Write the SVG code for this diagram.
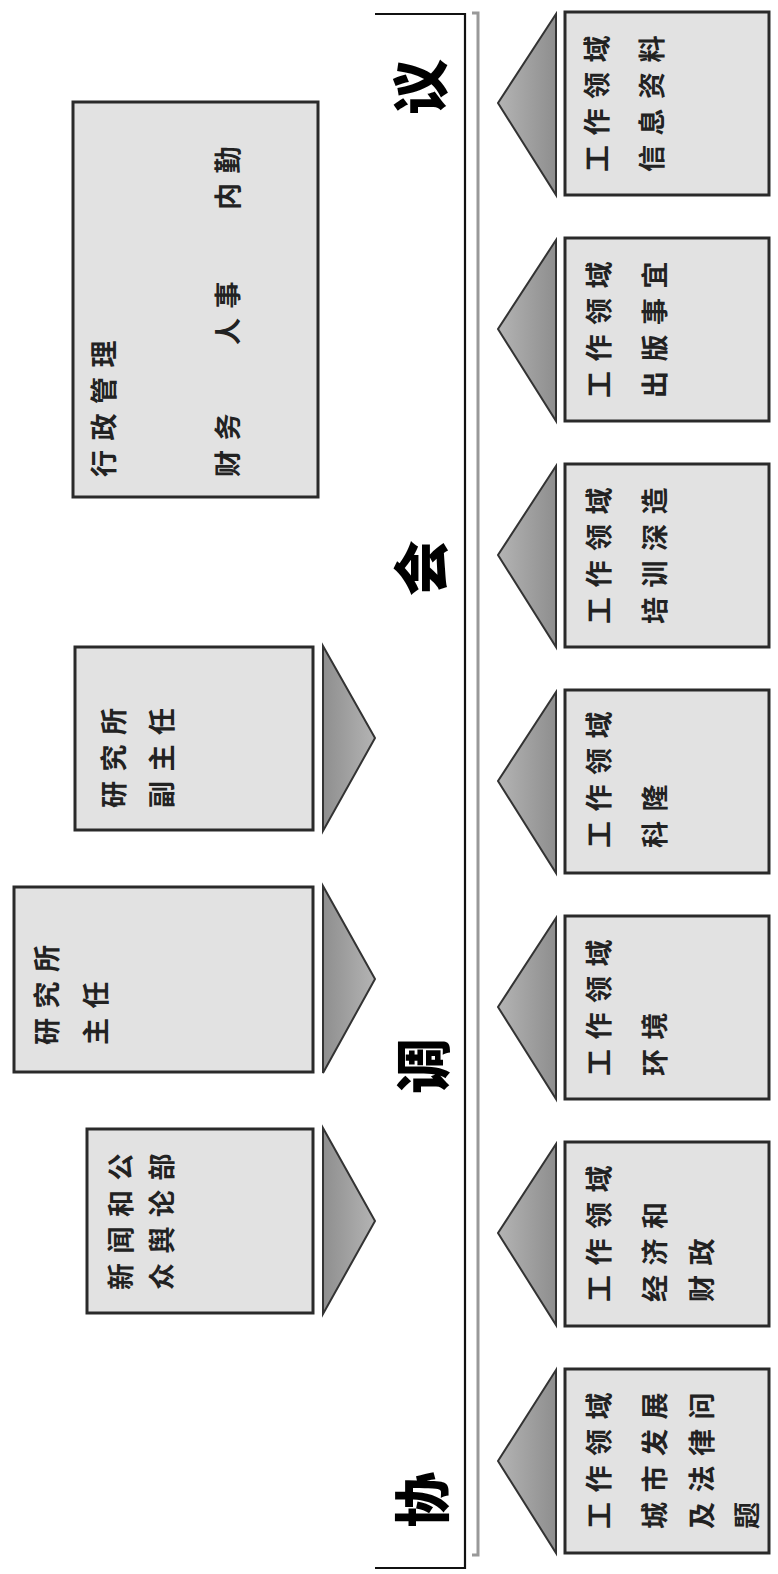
<svg xmlns="http://www.w3.org/2000/svg" width="778" height="1574" viewBox="0 0 778 1574">
<defs>
<linearGradient id="triR" x1="0" y1="0" x2="1" y2="0">
<stop offset="0" stop-color="#b4b4b4"/><stop offset="1" stop-color="#8e8e8e"/>
</linearGradient>
<linearGradient id="triL" x1="0" y1="0" x2="1" y2="0">
<stop offset="0" stop-color="#8e8e8e"/><stop offset="1" stop-color="#b4b4b4"/>
</linearGradient>
<style>
.box{fill:#e2e2e2;stroke:#2a2a2a;stroke-width:3}
.tr{fill:url(#triR);stroke:#333;stroke-width:2}
.tl{fill:url(#triL);stroke:#333;stroke-width:2}
.t{font-family:"Noto Sans CJK SC","Noto Sans CJK JP",sans-serif;font-size:27px;font-weight:700;fill:#222;letter-spacing:9.5px;dominant-baseline:central}
.big{font-family:"Noto Sans CJK SC","Noto Sans CJK JP",sans-serif;font-size:56px;font-weight:900;fill:#000;text-anchor:middle;dominant-baseline:central}
</style>
</defs>
<rect width="778" height="1574" fill="#fff"/>

<g id="connectors" fill="none">
<path d="M375,14 H465 V1568 H375" stroke="#111" stroke-width="2.2"/>
<path d="M472,13 H478 V1555 H472" stroke="#999" stroke-width="3"/>
</g>

<g id="title">
<text class="big" transform="translate(418,1500) rotate(-90)">协</text>
<text class="big" transform="translate(419,1066) rotate(-90)">调</text>
<text class="big" transform="translate(417,568) rotate(-90)">会</text>
<text class="big" transform="translate(416,87) rotate(-90)">议</text>
</g>

<g id="admin">
<rect class="box" x="73" y="102" width="245" height="395"/>
<text class="t" transform="translate(102,477) rotate(-90)">行政管理</text>
<text class="t" transform="translate(226,477) rotate(-90)">财务</text>
<text class="t" transform="translate(226,345) rotate(-90)">人事</text>
<text class="t" transform="translate(226,210) rotate(-90)">内勤</text>
</g>

<g id="deputy">
<rect class="box" x="75" y="647" width="238" height="183"/>
<polygon class="tl" points="323,646 375,738 323,831"/>
<text class="t" transform="translate(112,808) rotate(-90)">研究所</text>
<text class="t" transform="translate(160,808) rotate(-90)">副主任</text>
</g>

<g id="director">
<rect class="box" x="14" y="887" width="299" height="185"/>
<polygon class="tl" points="323,886 375,979 323,1073"/>
<text class="t" transform="translate(45,1045) rotate(-90)">研究所</text>
<text class="t" transform="translate(94,1045) rotate(-90)">主任</text>
</g>

<g id="press">
<rect class="box" x="87" y="1129" width="226" height="184"/>
<polygon class="tl" points="323,1128 375,1221 323,1314"/>
<text class="t" transform="translate(119,1290) rotate(-90)">新闻和公</text>
<text class="t" transform="translate(160,1290) rotate(-90)">众舆论部</text>
</g>

<g id="area-info">
<polygon class="tr" points="556,14 498,103 556,195"/>
<rect class="box" x="565" y="12" width="204" height="183"/>
<text class="t" transform="translate(595,172) rotate(-90)">工作领域</text>
<text class="t" transform="translate(650,172) rotate(-90)">信息资料</text>
</g>

<g id="area-publish">
<polygon class="tr" points="556,240 498,329 556,421"/>
<rect class="box" x="565" y="238" width="204" height="183"/>
<text class="t" transform="translate(597,398) rotate(-90)">工作领域</text>
<text class="t" transform="translate(653,398) rotate(-90)">出版事宜</text>
</g>

<g id="area-training">
<polygon class="tr" points="556,466 498,555 556,647"/>
<rect class="box" x="565" y="464" width="204" height="183"/>
<text class="t" transform="translate(597,624) rotate(-90)">工作领域</text>
<text class="t" transform="translate(653,624) rotate(-90)">培训深造</text>
</g>

<g id="area-cologne">
<polygon class="tr" points="556,692 498,781 556,873"/>
<rect class="box" x="565" y="690" width="204" height="183"/>
<text class="t" transform="translate(597,848) rotate(-90)">工作领域</text>
<text class="t" transform="translate(653,848) rotate(-90)">科隆</text>
</g>

<g id="area-environment">
<polygon class="tr" points="556,918 498,1007 556,1099"/>
<rect class="box" x="565" y="916" width="204" height="183"/>
<text class="t" transform="translate(597,1076) rotate(-90)">工作领域</text>
<text class="t" transform="translate(653,1076) rotate(-90)">环境</text>
</g>

<g id="area-economy">
<polygon class="tr" points="556,1144 498,1233 556,1325"/>
<rect class="box" x="565" y="1142" width="204" height="184"/>
<text class="t" transform="translate(597,1302) rotate(-90)">工作领域</text>
<text class="t" transform="translate(653,1302) rotate(-90)">经济和</text>
<text class="t" transform="translate(700,1302) rotate(-90)">财政</text>
</g>

<g id="area-urban">
<polygon class="tr" points="556,1370 498,1461 556,1553"/>
<rect class="box" x="565" y="1369" width="204" height="184"/>
<text class="t" transform="translate(597,1529) rotate(-90)">工作领域</text>
<text class="t" transform="translate(653,1529) rotate(-90)">城市发展</text>
<text class="t" transform="translate(700,1529) rotate(-90)">及法律问</text>
<text class="t" transform="translate(745,1529) rotate(-90)">题</text>
</g>
</svg>
